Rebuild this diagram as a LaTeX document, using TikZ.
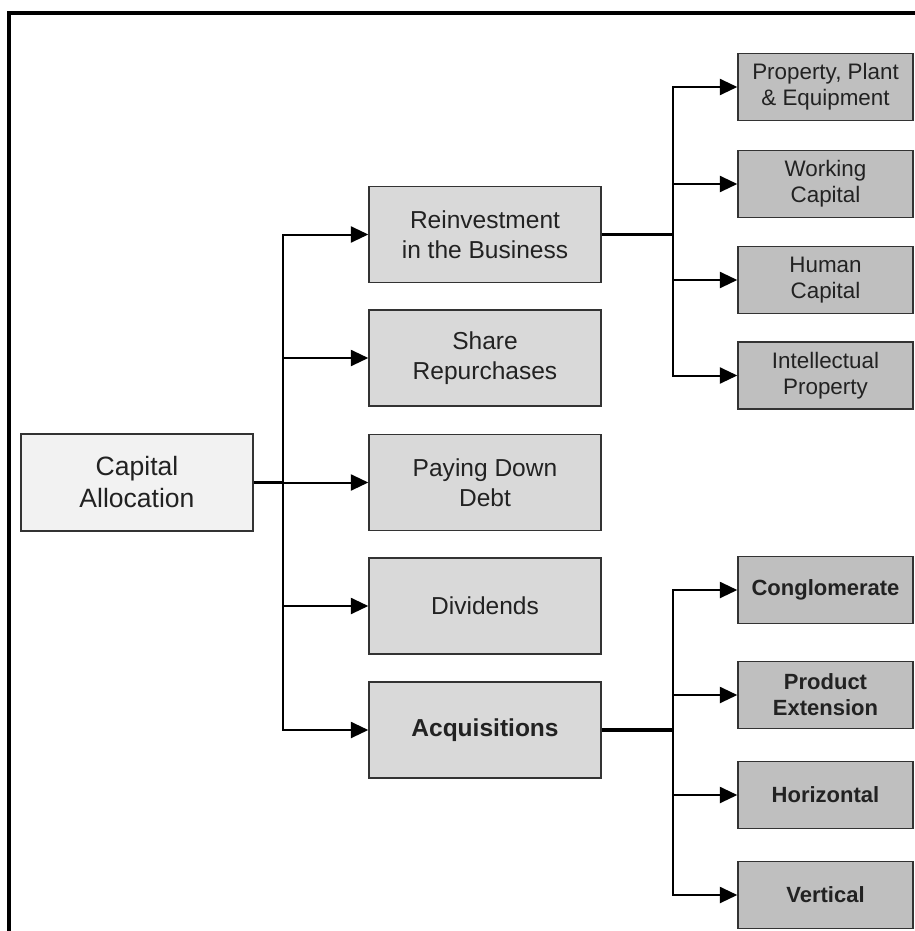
\documentclass[tikz,border=0pt]{standalone}
\usepackage{fontspec}
\setmainfont{Liberation Sans}
\usetikzlibrary{arrows.meta}
\definecolor{capfill}{HTML}{F2F2F2}
\definecolor{midfill}{HTML}{D9D9D9}
\definecolor{rfill}{HTML}{BFBFBF}
\definecolor{edgec}{HTML}{333333}
\definecolor{txt}{HTML}{222222}
\begin{document}
\begin{tikzpicture}[x=0.75pt,y=-0.75pt,
  box/.style={draw=edgec, line width=1.1pt, align=center, inner sep=0pt, text=txt},
  capbox/.style={box, fill=capfill, minimum width=174pt, minimum height=72.75pt, font=\fontsize{19.9}{24}\selectfont},
  midbox/.style={box, fill=midfill, minimum width=174pt, minimum height=72pt, font=\fontsize{18.4}{22.5}\selectfont},
  rbox/.style={box, fill=rfill, minimum width=131.25pt, minimum height=50.25pt, font=\fontsize{16.8}{19.5}\selectfont},
  bbox/.style={rbox, font=\fontsize{16.5}{19.5}\selectfont\bfseries},
  conn/.style={line width=1.5pt, black},
  arr/.style={conn, -{Triangle[length=13pt,width=12pt]}},
  thick conn/.style={line width=2.4pt, black},
]
\useasboundingbox (0,0) rectangle (914,931);
\fill[white] (0,0) rectangle (914,931);
% frame
\draw[line width=2.4pt, black] (9,950) -- (9,13) -- (940,13);

% nodes
\node[capbox] (cap) at (137,482.5) {Capital\\Allocation};

\node[midbox] (reinv) at (485,234.5) {Reinvestment\\in the Business};
\node[midbox] (share) at (485,358) {Share\\Repurchases};
\node[midbox] (debt)  at (485,482.5) {Paying Down\\Debt};
\node[midbox] (div)   at (485,606) {Dividends};
\node[midbox] (acq)   at (485,730) {\bfseries Acquisitions};

\node[rbox] (ppe)  at (825.5,87)    {Property, Plant\\\& Equipment};
\node[rbox] (wc)   at (825.5,184)   {Working\\Capital};
\node[rbox] (hc)   at (825.5,280)   {Human\\Capital};
\node[rbox] (ip)   at (825.5,375.5) {Intellectual\\Property};

\node[bbox] (cong) at (825.5,590) {Conglomerate};
\node[bbox] (prod) at (825.5,695) {Product\\Extension};
\node[bbox] (hor)  at (825.5,795) {Horizontal};
\node[bbox] (ver)  at (825.5,895) {Vertical};

% trunk junctions
\coordinate (tr) at (283,482.5);
\coordinate (tr2) at (673,234.5);
\coordinate (tr3) at (673,730);

\draw[thick conn] (cap.east) -- (tr);
\draw[arr] (tr) |- (reinv.west);
\draw[arr] (tr) |- (share.west);
\draw[arr] (tr) -- (debt.west);
\draw[arr] (tr) |- (div.west);
\draw[arr] (tr) |- (acq.west);

\draw[thick conn] (reinv.east) -- (tr2);
\draw[arr] (tr2) |- (ppe.west);
\draw[arr] (tr2) |- (wc.west);
\draw[arr] (tr2) |- (hc.west);
\draw[arr] (tr2) |- (ip.west);

\draw[thick conn] (acq.east) -- (tr3);
\draw[arr] (tr3) |- (cong.west);
\draw[arr] (tr3) |- (prod.west);
\draw[arr] (tr3) |- (hor.west);
\draw[arr] (tr3) |- (ver.west);
\end{tikzpicture}
\end{document}
